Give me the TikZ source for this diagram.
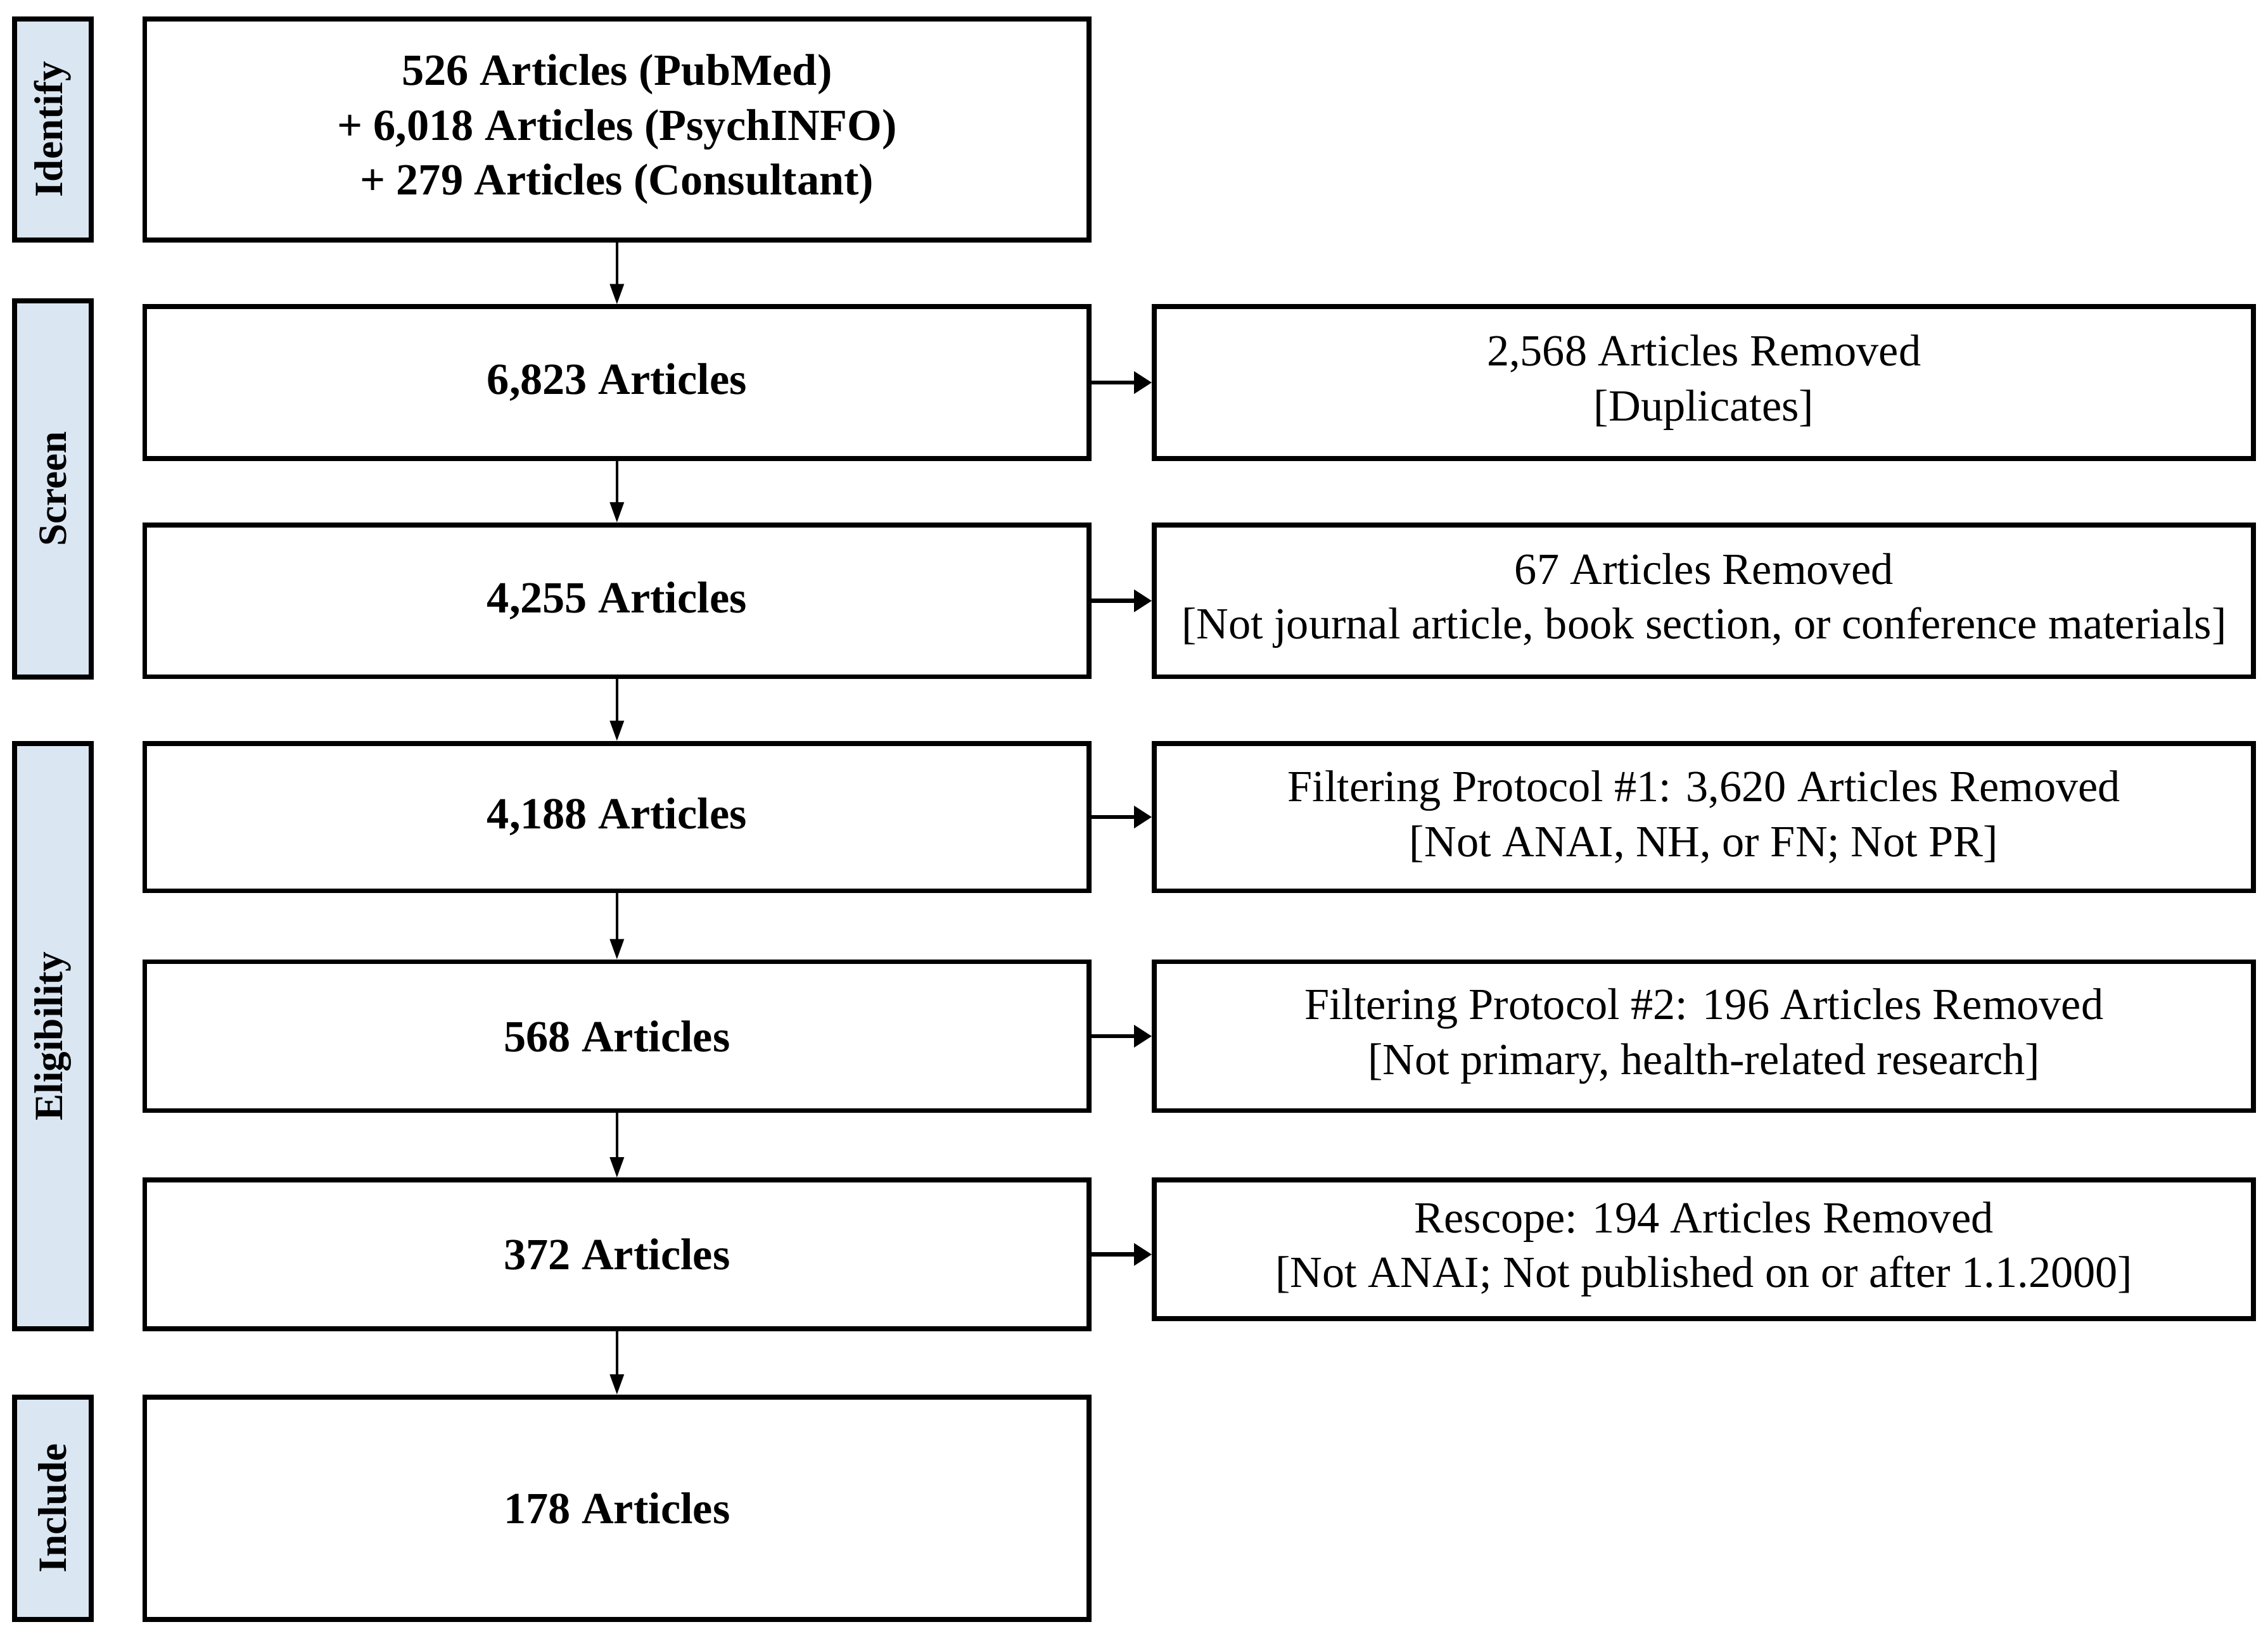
\documentclass[tikz,border=0pt]{standalone}
\usepackage{fontspec}
\setmainfont{Liberation Serif}
\usetikzlibrary{arrows.meta}
\definecolor{stagefill}{RGB}{218,230,242}

\begin{document}
\begin{tikzpicture}[
  mainbox/.style={draw, line width=1.1pt, fill=white, minimum width=7.454cm, inner sep=0pt, align=center, font=\fontsize{10}{12.3}\selectfont\bfseries},
  sidebox/.style={draw, line width=1.1pt, fill=white, minimum width=8.676cm, inner sep=0pt, align=center, font=\fontsize{10}{12.3}\selectfont},
  stagebox/.style={draw, line width=1.1pt, fill=stagefill, rotate=90, minimum height=0.605cm, inner sep=0pt, font=\fontsize{9}{10}\selectfont\bfseries},
  downarr/.style={line width=0.5pt, -{Triangle[length=0.16cm,width=0.11cm]}},
  sidearr/.style={line width=0.9pt, -{Triangle[length=0.14cm,width=0.17cm]}}
]
\useasboundingbox (0,0) rectangle (17.9,-12.95);

\node[stagebox, minimum width=1.747cm] (identify) at (0.417,-1.022) {Identify};
\node[stagebox, minimum width=2.968cm] (screen) at (0.417,-3.859) {Screen};
\node[stagebox, minimum width=4.623cm] (eligibility) at (0.417,-8.18) {Eligibility};
\node[stagebox, minimum width=1.758cm] (include) at (0.417,-11.907) {Include};

\node[mainbox, minimum height=1.747cm] (n1) at (4.869,-1.022) {526 Articles (PubMed)\\+ 6,018 Articles (PsychINFO)\\+ 279 Articles (Consultant)};
\node[mainbox, minimum height=1.199cm] (n2) at (4.869,-3.020) {6,823 Articles};
\node[mainbox, minimum height=1.199cm] (n3) at (4.869,-4.743) {4,255 Articles};
\node[mainbox, minimum height=1.164cm] (n4) at (4.869,-6.450) {4,188 Articles};
\node[mainbox, minimum height=1.175cm] (n5) at (4.869,-8.180) {568 Articles};
\node[mainbox, minimum height=1.176cm] (n6) at (4.869,-9.903) {372 Articles};
\node[mainbox, minimum height=1.758cm] (n7) at (4.869,-11.907) {178 Articles};

\node[sidebox, minimum height=1.199cm] (r1) at (13.448,-3.020) {2,568 Articles Removed\\{}[Duplicates]};
\node[sidebox, minimum height=1.199cm] (r2) at (13.448,-4.743) {67 Articles Removed\\{}[Not journal article, book section, or conference materials]};
\node[sidebox, minimum height=1.164cm] (r3) at (13.448,-6.450) {Filtering Protocol \#1: 3,620 Articles Removed\\{}[Not ANAI, NH, or FN; Not PR]};
\node[sidebox, minimum height=1.175cm] (r4) at (13.448,-8.180) {Filtering Protocol \#2: 196 Articles Removed\\{}[Not primary, health-related research]};
\node[sidebox, minimum height=1.096cm] (r5) at (13.448,-9.863) {Rescope: 194 Articles Removed\\{}[Not ANAI; Not published on or after 1.1.2000]};

\draw[downarr] (n1) -- (n2);
\draw[downarr] (n2) -- (n3);
\draw[downarr] (n3) -- (n4);
\draw[downarr] (n4) -- (n5);
\draw[downarr] (n5) -- (n6);
\draw[downarr] (n6) -- (n7);

\draw[sidearr] (n2) -- (r1);
\draw[sidearr] (n3) -- (r2);
\draw[sidearr] (n4) -- (r3);
\draw[sidearr] (n5) -- (r4);
\draw[sidearr] (n6.east) -- (n6.east -| r5.west);
\end{tikzpicture}
\end{document}
